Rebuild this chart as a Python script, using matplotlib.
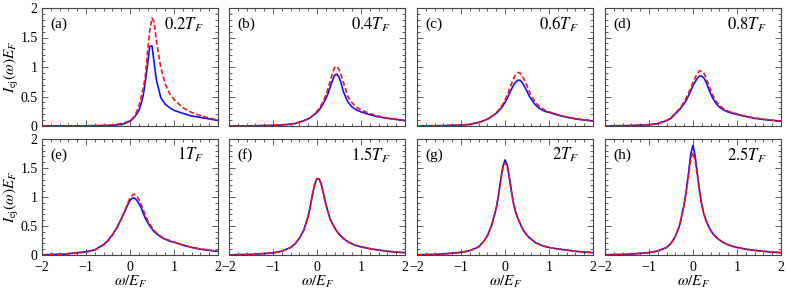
import matplotlib
matplotlib.use("Agg")
from matplotlib import pyplot as plt
from matplotlib.ticker import MultipleLocator, FuncFormatter
import numpy as np

# omega / E_F grid on which the curves were read
omega = [-2, -1.5, -1, -0.8, -0.6, -0.5, -0.4, -0.3, -0.2, -0.15, -0.1, -0.05, 0,
         0.05, 0.1, 0.15, 0.2, 0.25, 0.3, 0.35, 0.4, 0.45, 0.5, 0.55, 0.6,
         0.7, 0.8, 0.9, 1.0, 1.2, 1.4, 1.6, 1.8, 2.0]

temps = ['0.2', '0.4', '0.6', '0.8', '1', '1.5', '2', '2.5']
letters = ['a', 'b', 'c', 'd', 'e', 'f', 'g', 'h']

blue_a = [0, 0.001, 0.003, 0.005, 0.008, 0.01, 0.013, 0.018, 0.028, 0.035, 0.05, 0.065, 0.085,
          0.11, 0.15, 0.20, 0.26, 0.37, 0.52, 0.76, 1.05, 1.35, 1.36, 1.06, 0.78,
          0.48, 0.37, 0.31, 0.265, 0.215, 0.17, 0.145, 0.12, 0.095]
red_a = [0, 0.002, 0.004, 0.007, 0.011, 0.015, 0.02, 0.03, 0.042, 0.05, 0.06, 0.075, 0.095,
         0.12, 0.17, 0.24, 0.34, 0.47, 0.63, 0.86, 1.26, 1.62, 1.83, 1.76, 1.44,
         0.99, 0.71, 0.55, 0.45, 0.31, 0.23, 0.175, 0.135, 0.10]
blue_b = [0.0, 0.003, 0.01, 0.017, 0.03, 0.042, 0.065, 0.09, 0.12, 0.14, 0.17, 0.20, 0.23,
          0.27, 0.33, 0.39, 0.46, 0.55, 0.66, 0.77, 0.86, 0.88, 0.83, 0.72, 0.58,
          0.41, 0.32, 0.27, 0.24, 0.19, 0.155, 0.13, 0.11, 0.09]
red_b = [0.0, 0.004, 0.012, 0.02, 0.033, 0.045, 0.065, 0.09, 0.125, 0.145, 0.175, 0.21, 0.25,
         0.30, 0.36, 0.43, 0.52, 0.63, 0.76, 0.89, 0.99, 1.01, 0.96, 0.86, 0.74,
         0.50, 0.39, 0.32, 0.27, 0.21, 0.165, 0.135, 0.115, 0.095]
blue_c = [0.002, 0.005, 0.015, 0.027, 0.06, 0.085, 0.115, 0.16, 0.215, 0.25, 0.29, 0.34, 0.40,
          0.47, 0.55, 0.63, 0.70, 0.75, 0.78, 0.77, 0.73, 0.66, 0.59, 0.51, 0.45,
          0.35, 0.29, 0.25, 0.23, 0.185, 0.15, 0.12, 0.10, 0.085]
red_c = [0.002, 0.005, 0.016, 0.03, 0.06, 0.085, 0.12, 0.165, 0.225, 0.265, 0.31, 0.37, 0.44,
         0.52, 0.62, 0.72, 0.81, 0.88, 0.91, 0.89, 0.84, 0.76, 0.68, 0.59, 0.51,
         0.39, 0.32, 0.27, 0.24, 0.19, 0.155, 0.125, 0.105, 0.09]
blue_d = [0.002, 0.006, 0.02, 0.04, 0.09, 0.13, 0.21, 0.28, 0.38, 0.44, 0.52, 0.60, 0.68,
          0.75, 0.81, 0.845, 0.845, 0.81, 0.74, 0.64, 0.55, 0.47, 0.41, 0.36, 0.32,
          0.27, 0.235, 0.215, 0.195, 0.16, 0.13, 0.11, 0.095, 0.08]
red_d = [0.002, 0.007, 0.022, 0.045, 0.095, 0.14, 0.22, 0.30, 0.41, 0.48, 0.56, 0.65, 0.74,
         0.82, 0.89, 0.935, 0.93, 0.89, 0.81, 0.71, 0.61, 0.52, 0.45, 0.39, 0.35,
         0.29, 0.25, 0.225, 0.205, 0.165, 0.135, 0.115, 0.10, 0.085]
blue_e = [0.003, 0.015, 0.055, 0.09, 0.18, 0.25, 0.35, 0.47, 0.62, 0.70, 0.78, 0.87, 0.94,
          0.98, 0.98, 0.95, 0.89, 0.82, 0.72, 0.63, 0.56, 0.50, 0.45, 0.40, 0.37,
          0.31, 0.27, 0.24, 0.22, 0.17, 0.13, 0.10, 0.08, 0.06]
red_e = [0.003, 0.015, 0.05, 0.085, 0.17, 0.24, 0.34, 0.46, 0.62, 0.71, 0.80, 0.90, 0.98,
         1.03, 1.05, 1.02, 0.96, 0.88, 0.78, 0.68, 0.60, 0.53, 0.47, 0.42, 0.385,
         0.32, 0.28, 0.25, 0.225, 0.175, 0.135, 0.105, 0.085, 0.065]
blue_f = [0.003, 0.01, 0.035, 0.065, 0.13, 0.19, 0.29, 0.43, 0.67, 0.85, 1.05, 1.22, 1.31,
          1.31, 1.22, 1.05, 0.88, 0.74, 0.62, 0.54, 0.47, 0.41, 0.36, 0.32, 0.285,
          0.23, 0.19, 0.16, 0.14, 0.11, 0.085, 0.065, 0.05, 0.04]
red_f = [0.003, 0.01, 0.036, 0.066, 0.13, 0.19, 0.29, 0.43, 0.67, 0.85, 1.06, 1.23, 1.32,
         1.31, 1.21, 1.04, 0.88, 0.74, 0.62, 0.54, 0.47, 0.41, 0.36, 0.32, 0.285,
         0.23, 0.19, 0.16, 0.14, 0.11, 0.085, 0.065, 0.05, 0.04]
blue_g = [0.004, 0.012, 0.045, 0.075, 0.14, 0.22, 0.33, 0.52, 0.80, 1.02, 1.28, 1.52, 1.64,
          1.56, 1.33, 1.08, 0.86, 0.72, 0.62, 0.53, 0.45, 0.39, 0.34, 0.30, 0.27,
          0.21, 0.175, 0.15, 0.13, 0.105, 0.085, 0.065, 0.05, 0.04]
red_g = [0.004, 0.012, 0.045, 0.075, 0.14, 0.22, 0.33, 0.52, 0.80, 1.02, 1.27, 1.49, 1.59,
         1.53, 1.32, 1.08, 0.86, 0.72, 0.62, 0.53, 0.45, 0.39, 0.34, 0.30, 0.27,
         0.21, 0.175, 0.15, 0.13, 0.105, 0.085, 0.065, 0.05, 0.04]
blue_h = [0.004, 0.012, 0.04, 0.07, 0.13, 0.20, 0.32, 0.52, 0.88, 1.12, 1.42, 1.75, 1.89,
          1.70, 1.40, 1.10, 0.87, 0.70, 0.59, 0.50, 0.43, 0.37, 0.33, 0.29, 0.26,
          0.21, 0.175, 0.15, 0.13, 0.10, 0.08, 0.065, 0.05, 0.04]
red_h = [0.004, 0.012, 0.04, 0.07, 0.13, 0.20, 0.32, 0.52, 0.87, 1.10, 1.38, 1.65, 1.77,
         1.62, 1.36, 1.08, 0.86, 0.70, 0.59, 0.50, 0.43, 0.37, 0.33, 0.29, 0.26,
         0.21, 0.175, 0.15, 0.13, 0.10, 0.08, 0.065, 0.05, 0.04]

blues = [blue_a, blue_b, blue_c, blue_d, blue_e, blue_f, blue_g, blue_h]
reds = [red_a, red_b, red_c, red_d, red_e, red_f, red_g, red_h]

plt.rcParams['font.family'] = ['Liberation Serif', 'DejaVu Serif']
plt.rcParams['mathtext.fontset'] = 'stix'

W, H = 789, 291
fig = plt.figure(figsize=(W / 100, H / 100), dpi=100)

col_left = [42, 229, 417, 605]
row_top = [8, 139]
row_h = [118, 116]
ax_w = 176

fmt = FuncFormatter(lambda v, p: ('%g' % v).replace('-', '\u2212'))

for i in range(8):
    r, c = divmod(i, 4)
    ax = fig.add_axes([col_left[c] / W, 1 - (row_top[r] + row_h[r]) / H,
                       ax_w / W, row_h[r] / H])
    ax.plot(omega, blues[i], color='#1010ff', lw=1.2)
    ax.plot(omega, reds[i], color='#ff1010', lw=1.2, dashes=(3, 1.5))
    ax.set_xlim(-2, 2)
    ax.set_ylim(0, 2)
    ax.xaxis.set_major_locator(MultipleLocator(1))
    ax.xaxis.set_minor_locator(MultipleLocator(0.2))
    ax.yaxis.set_major_locator(MultipleLocator(0.5))
    ax.yaxis.set_minor_locator(MultipleLocator(0.1))
    ax.xaxis.set_major_formatter(fmt)
    ax.yaxis.set_major_formatter(fmt)
    ax.tick_params(which='both', direction='in', top=True, right=True,
                   labelsize=10, width=0.6, color='#444444')
    ax.tick_params(which='major', length=4, pad=3)
    ax.tick_params(axis='x', which='major', pad=4.5)
    ax.tick_params(which='minor', length=2)
    for s in ax.spines.values():
        s.set_linewidth(0.8)
        s.set_color('#444444')
    if r == 0:
        ax.tick_params(labelbottom=False)
    else:
        ax.set_xlabel(r'$\omega/E_F$', fontsize=11, labelpad=0)
    if c > 0:
        ax.tick_params(labelleft=False)
    else:
        ax.set_ylabel(r'$I_{\rm ej}(\omega)E_F$', fontsize=11)
        ax.yaxis.set_label_coords(-21 / ax_w, 0.5)
    ax.text(0.05, 0.86, '(%s)' % letters[i], transform=ax.transAxes,
            fontsize=11, va='center', ha='left')
    ax.text(0.92, 0.86, r'$%sT_F$' % temps[i], transform=ax.transAxes,
            fontsize=12, va='center', ha='right')

fig.savefig('out.png', dpi=100)
